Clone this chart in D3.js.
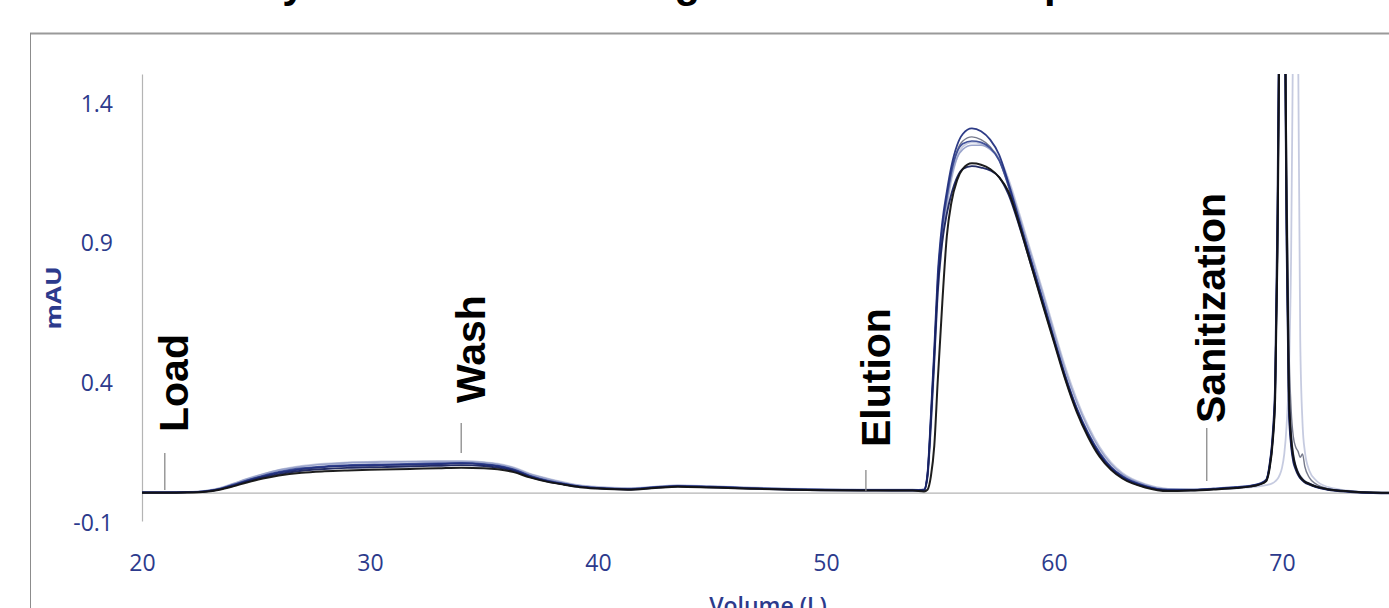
<!DOCTYPE html>
<html>
<head>
<meta charset="utf-8">
<script src="https://cdn.jsdelivr.net/npm/d3@7"></script>
<style>
  html, body { margin: 0; padding: 0; background: #ffffff; overflow: hidden; }
  svg { display: block; }
</style>
</head>
<body>
<svg id="chart" width="1389" height="608"></svg>
<script>
// ---------------- DATA ----------------
const titleText = "Overlay of the 8 Chromatograms from the Capture";
const xTickValues = [20, 30, 40, 50, 60, 70];
const yTickValues = [-0.1, 0.4, 0.9, 1.4];
const xTitle = "Volume (L)";
const yTitle = "mAU";

const phaseNames = ["Load", "Wash", "Elution", "Sanitization"];
const phaseVolumes = [21.0, 34.0, 51.75, 66.7];

const volume = [
  20, 21, 22, 22.8, 23.4, 24, 24.6, 25.3, 26, 27,
  28, 29, 30.5, 32, 33, 34, 35, 35.6, 36.3, 37,
  37.8, 38.5, 39.2, 40, 41.3, 42.5, 43.5, 44.9, 46, 47.1,
  48.5, 50, 51.5, 52.9, 53.8,
  54.3, 54.45, 54.6, 54.75, 54.9, 55.1, 55.3, 55.5, 55.75, 56,
  56.4, 56.8, 57.2, 57.6, 58, 58.5, 59, 59.5, 60, 60.5,
  61, 61.5, 62, 62.5, 63, 64, 65,
  66, 67, 68, 68.6, 69, 69.3, 69.45, 69.6,
  69.7, 69.8, 69.9, 70, 70.1, 70.2, 70.3, 70.4, 70.5, 70.6,
  70.7, 70.8, 70.9, 71, 71.2, 71.5, 72, 73, 74, 75,
  76
];

const runPale = [
  0.003, 0.003, 0.004, 0.009, 0.018, 0.034, 0.051, 0.068, 0.083, 0.097,
  0.105, 0.11, 0.113, 0.114, 0.115, 0.115, 0.111, 0.105, 0.092, 0.07,
  0.052, 0.039, 0.028, 0.022, 0.018, 0.023, 0.028, 0.025, 0.022, 0.019,
  0.016, 0.014, 0.013, 0.013, 0.013,
  0.01, 0.05, 0.22, 0.45, 0.7, 0.9, 1.02, 1.12, 1.2, 1.24,
  1.255, 1.25, 1.235, 1.2, 1.125, 0.995, 0.86, 0.725, 0.585, 0.45,
  0.335, 0.24, 0.165, 0.11, 0.072, 0.032, 0.015,
  0.012, 0.014, 0.017, 0.02, 0.024, 0.028, 0.031, 0.036,
  0.042, 0.05, 0.065, 0.09, 0.14, 0.24, 0.42, 0.85, 1.8, 2.5,
  1.7, 0.55, 0.25, 0.15, 0.08, 0.045, 0.022, 0.008, 0.002, 0,
  0
];

const runLight = [
  0.003, 0.003, 0.004, 0.008, 0.017, 0.033, 0.05, 0.067, 0.082, 0.095,
  0.103, 0.108, 0.111, 0.112, 0.113, 0.113, 0.109, 0.103, 0.09, 0.068,
  0.05, 0.037, 0.027, 0.021, 0.017, 0.022, 0.027, 0.024, 0.021, 0.018,
  0.015, 0.013, 0.012, 0.012, 0.012,
  0.012, 0.06, 0.25, 0.48, 0.74, 0.93, 1.04, 1.13, 1.2, 1.23,
  1.245, 1.245, 1.23, 1.195, 1.115, 0.985, 0.85, 0.715, 0.575, 0.44,
  0.325, 0.232, 0.158, 0.104, 0.068, 0.03, 0.014,
  0.013, 0.017, 0.022, 0.027, 0.034, 0.048, 0.095, 0.2,
  0.35, 0.85, 1.8, 2.6, 2.1, 1.1, 0.42, 0.22, 0.14, 0.1,
  0.078, 0.062, 0.052, 0.044, 0.035, 0.025, 0.015, 0.007, 0.002, 0.001,
  0
];

const runGray = [
  0.002, 0.002, 0.003, 0.007, 0.015, 0.029, 0.045, 0.061, 0.074, 0.087,
  0.094, 0.098, 0.101, 0.103, 0.105, 0.107, 0.103, 0.097, 0.084, 0.062,
  0.044, 0.033, 0.023, 0.018, 0.014, 0.02, 0.025, 0.022, 0.019, 0.016,
  0.013, 0.011, 0.01, 0.01, 0.01,
  0.011, 0.06, 0.26, 0.49, 0.75, 0.95, 1.06, 1.15, 1.225, 1.26,
  1.275, 1.265, 1.24, 1.19, 1.1, 0.965, 0.83, 0.69, 0.55, 0.415,
  0.3, 0.212, 0.142, 0.092, 0.06, 0.025, 0.011,
  0.011, 0.015, 0.02, 0.025, 0.032, 0.045, 0.088, 0.19,
  0.34, 0.85, 1.8, 2.6, 2.1, 1.2, 0.55, 0.3, 0.2, 0.165,
  0.15, 0.128, 0.14, 0.095, 0.055, 0.032, 0.016, 0.006, 0.002, 0,
  0
];

const runMedBlue = [
  0.002, 0.002, 0.003, 0.007, 0.015, 0.03, 0.046, 0.062, 0.076, 0.089,
  0.096, 0.1, 0.103, 0.105, 0.107, 0.108, 0.104, 0.098, 0.085, 0.063,
  0.045, 0.034, 0.024, 0.019, 0.015, 0.021, 0.026, 0.023, 0.02, 0.017,
  0.014, 0.012, 0.011, 0.011, 0.011,
  0.012, 0.065, 0.27, 0.5, 0.76, 0.95, 1.06, 1.15, 1.22, 1.25,
  1.26, 1.255, 1.235, 1.19, 1.1, 0.965, 0.83, 0.695, 0.555, 0.42,
  0.305, 0.215, 0.145, 0.094, 0.061, 0.026, 0.012,
  0.012, 0.016, 0.021, 0.026, 0.033, 0.047, 0.095, 0.21,
  0.37, 0.92, 1.95, 2.75, 2.05, 1.0, 0.36, 0.19, 0.125, 0.093,
  0.072, 0.057, 0.048, 0.041, 0.033, 0.023, 0.014, 0.006, 0.002, 0.001,
  0
];

const runNavy = [
  0.002, 0.002, 0.003, 0.006, 0.014, 0.028, 0.044, 0.06, 0.073, 0.086,
  0.093, 0.097, 0.1, 0.102, 0.104, 0.106, 0.102, 0.096, 0.083, 0.061,
  0.043, 0.032, 0.023, 0.018, 0.014, 0.02, 0.025, 0.022, 0.019, 0.016,
  0.013, 0.011, 0.01, 0.01, 0.01,
  0.012, 0.07, 0.28, 0.52, 0.78, 0.97, 1.08, 1.17, 1.245, 1.285,
  1.305, 1.295, 1.265, 1.21, 1.11, 0.97, 0.83, 0.69, 0.55, 0.415,
  0.3, 0.21, 0.14, 0.09, 0.058, 0.024, 0.011,
  0.011, 0.015, 0.02, 0.025, 0.032, 0.045, 0.09, 0.2,
  0.36, 0.9, 1.9, 2.7, 2.0, 0.95, 0.33, 0.18, 0.12, 0.09,
  0.07, 0.055, 0.047, 0.04, 0.032, 0.022, 0.013, 0.005, 0.001, 0,
  0
];

const runDarkNavy = [
  0.002, 0.002, 0.003, 0.006, 0.013, 0.026, 0.041, 0.056, 0.068, 0.08,
  0.086, 0.09, 0.093, 0.096, 0.098, 0.1, 0.097, 0.091, 0.079, 0.058,
  0.041, 0.031, 0.022, 0.017, 0.013, 0.019, 0.024, 0.021, 0.018, 0.015,
  0.012, 0.01, 0.01, 0.009, 0.009,
  0.01, 0.06, 0.25, 0.48, 0.72, 0.9, 1.0, 1.07, 1.13, 1.16,
  1.17, 1.165, 1.155, 1.13, 1.07, 0.95, 0.815, 0.68, 0.545, 0.41,
  0.295, 0.205, 0.135, 0.087, 0.055, 0.022, 0.009,
  0.01, 0.014, 0.019, 0.024, 0.031, 0.044, 0.1, 0.22,
  0.4, 1.0, 2.0, 2.8, 2.0, 0.9, 0.3, 0.17, 0.11, 0.085,
  0.066, 0.053, 0.045, 0.038, 0.03, 0.021, 0.012, 0.004, 0, -0.001,
  -0.001
];

const runBlack = [
  0.001, 0.001, 0.002, 0.005, 0.012, 0.024, 0.038, 0.052, 0.063, 0.073,
  0.078, 0.081, 0.084, 0.087, 0.089, 0.091, 0.089, 0.085, 0.075, 0.056,
  0.04, 0.03, 0.021, 0.016, 0.012, 0.018, 0.023, 0.02, 0.017, 0.015,
  0.012, 0.01, 0.009, 0.009, 0.009,
  0.006, 0.012, 0.06, 0.17, 0.4, 0.68, 0.92, 1.04, 1.12, 1.16,
  1.18, 1.175, 1.16, 1.13, 1.08, 0.955, 0.815, 0.675, 0.54, 0.405,
  0.29, 0.2, 0.13, 0.083, 0.052, 0.02, 0.007,
  0.009, 0.013, 0.018, 0.023, 0.03, 0.042, 0.085, 0.19,
  0.34, 0.85, 1.8, 2.6, 2.1, 1.05, 0.38, 0.2, 0.13, 0.095,
  0.072, 0.058, 0.048, 0.041, 0.033, 0.023, 0.014, 0.006, 0.002, 0.001,
  0.001
];

const runs = [
  { values: runPale,     color: "#c3c8de", width: 1.8 },
  { values: runLight,    color: "#959fc8", width: 1.6 },
  { values: runGray,     color: "#6f7386", width: 1.4 },
  { values: runMedBlue,  color: "#3a4b96", width: 1.7 },
  { values: runNavy,     color: "#22307f", width: 1.8 },
  { values: runDarkNavy, color: "#17215e", width: 1.9 },
  { values: runBlack,    color: "#121212", width: 2.0 }
];

// ---------------- LAYOUT ----------------
const svg = d3.select("#chart");
const navy = "#2c3a8c";

const x = d3.scaleLinear().domain([20, 76]).range([142, 142 + 56 * 22.8]);
const y = d3.scaleLinear().domain([-0.1, 1.5]).range([521, 521 - 1.6 * 279.4]);

// outer frame
svg.append("line").attr("x1", 30).attr("x2", 1389).attr("y1", 33.5).attr("y2", 33.5)
  .attr("stroke", "#9a9a9a").attr("stroke-width", 2);
svg.append("line").attr("x1", 30.5).attr("x2", 30.5).attr("y1", 33).attr("y2", 608)
  .attr("stroke", "#8c8c8c").attr("stroke-width", 1);

// title (mostly above the visible area, as in the cropped reference)
svg.append("text").attr("x", 152).attr("y", -3.5)
  .attr("font-family", "'Liberation Sans', Arial, sans-serif")
  .attr("font-weight", "bold").attr("font-size", 41.8).attr("fill", "#000")
  .text(titleText);

// y axis
const yAxis = d3.axisLeft(y).tickValues(yTickValues).tickSize(0).tickSizeOuter(0)
  .tickPadding(29).tickFormat(d => d.toString());
const gy = svg.append("g").attr("transform", `translate(${x(20)},0)`).call(yAxis);
gy.select(".domain").attr("stroke", "#b4b4b4").attr("stroke-width", 1.2);
gy.selectAll("text").attr("font-family", "'Open Sans', sans-serif")
  .attr("font-size", 23).attr("fill", navy).attr("dy", "0.4em");

// x axis labels at bottom
const xAxis = d3.axisBottom(x).tickValues(xTickValues).tickSize(0).tickSizeOuter(0)
  .tickPadding(34).tickFormat(d => d.toString());
const gx = svg.append("g").attr("transform", `translate(0,${y(-0.1)})`).call(xAxis);
gx.select(".domain").remove();
gx.selectAll("text").attr("font-family", "'Open Sans', sans-serif")
  .attr("font-size", 23).attr("fill", navy);

// zero line (horizontal axis)
svg.append("line").attr("x1", x(20)).attr("x2", 1389)
  .attr("y1", y(0)).attr("y2", y(0))
  .attr("stroke", "#b4b4b4").attr("stroke-width", 1.2);

// axis titles
svg.append("text")
  .attr("transform", `translate(61,${298}) rotate(-90)`)
  .attr("text-anchor", "middle")
  .attr("font-family", "'Open Sans', sans-serif").attr("font-weight", "bold")
  .attr("font-size", 21).attr("fill", navy)
  .attr("textLength", 63).attr("lengthAdjust", "spacingAndGlyphs")
  .text(yTitle);

svg.append("text").attr("x", 768).attr("y", 614)
  .attr("text-anchor", "middle")
  .attr("font-family", "'Open Sans', sans-serif").attr("font-weight", 600)
  .attr("font-size", 23).attr("fill", navy)
  .text(xTitle);

// clip for traces
svg.append("defs").append("clipPath").attr("id", "plotClip")
  .append("rect").attr("x", x(20)).attr("y", y(1.5))
  .attr("width", 1389 - x(20)).attr("height", y(-0.1) - y(1.5));

const line = d3.line()
  .x((d, i) => x(volume[i]))
  .y(d => y(d))
  .curve(d3.curveMonotoneX);

const gTraces = svg.append("g").attr("clip-path", "url(#plotClip)");
runs.forEach(r => {
  gTraces.append("path")
    .datum(r.values)
    .attr("d", line)
    .attr("fill", "none")
    .attr("stroke", r.color)
    .attr("stroke-width", r.width)
    .attr("stroke-linejoin", "round")
    .attr("opacity", 0.95);
});

// phase markers and labels
const markerSpans = [[453, 490], [423, 453], [470, 491], [428, 481]];
const labelOffsets = [23, 24, 24, 18];
const labelBottoms = [432, 403, 447, 423];
phaseNames.forEach((name, i) => {
  const px = x(phaseVolumes[i]);
  svg.append("line")
    .attr("x1", px).attr("x2", px)
    .attr("y1", markerSpans[i][0]).attr("y2", markerSpans[i][1])
    .attr("stroke", "#8a8a8a").attr("stroke-width", 1.3);
  svg.append("text")
    .attr("transform", `translate(${px + labelOffsets[i]},${labelBottoms[i]}) rotate(-90)`)
    .attr("font-family", "'Liberation Sans', Arial, sans-serif")
    .attr("font-weight", "bold").attr("font-size", 41).attr("fill", "#000")
    .text(name);
});
</script>
</body>
</html>
